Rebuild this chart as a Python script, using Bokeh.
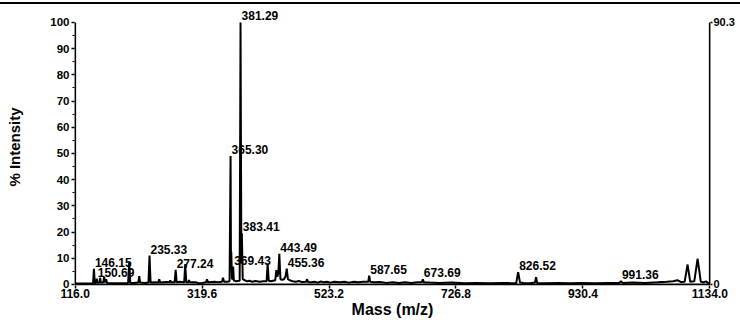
from bokeh.plotting import figure
from bokeh.models import (ColumnDataSource, LabelSet, LinearAxis, FixedTicker,
                          Range1d, Div, NumeralTickFormatter)
from bokeh.core.properties import value
from bokeh.layouts import column
from bokeh.embed import file_html
from bokeh.resources import INLINE

# ---- spectrum profile (m/z, % intensity) ----
profile_mz = [116.0, 130.0, 144.8, 146.15, 147.5, 149.5, 150.69, 152.0, 155.0, 156.1,
              157.3, 161.3, 162.6, 163.9, 165.8, 167.2, 185.0, 201.0, 202.7, 204.4,
              210.0, 217.3, 218.8, 220.3, 228.0, 233.6, 235.33, 237.0, 245.0, 249.4,
              250.9, 252.4, 262.0, 266.9, 268.5, 270.0, 275.6, 277.24, 278.9, 284.0,
              290.9, 292.6, 294.3, 297.2, 298.6, 300.0, 310.0, 314.0, 320.0, 325.9,
              327.5, 329.1, 340.0, 345.0, 351.6, 353.2, 354.8, 360.0, 363.7, 365.30,
              366.0, 366.4, 367.6, 368.4, 369.43, 370.6, 374.0, 379.9, 381.29, 382.6,
              383.41, 384.8, 388.0, 392.0, 396.0, 400.0, 405.0, 412.0, 418.0, 423.1,
              424.8, 426.5, 430.0, 436.9, 438.7, 440.0, 441.8, 443.49, 445.3, 448.0,
              451.0, 453.4, 455.36, 457.3, 460.0, 465.0, 470.0, 475.0, 480.0, 486.4,
              488.0, 489.6, 495.0, 500.0, 505.0, 510.0, 515.0, 520.0, 525.0, 532.0,
              540.0, 548.0, 555.0, 563.0, 570.0, 578.0, 586.1, 587.65, 589.2, 595.0,
              605.0, 615.0, 625.0, 635.0, 645.0, 655.0, 665.0, 672.1, 673.69, 675.3,
              685.0, 700.0, 720.0, 740.0, 760.0, 780.0, 800.0, 815.0, 823.5, 826.52,
              829.5, 835.0, 845.0, 853.5, 855.2, 856.9, 870.0, 890.0, 910.0, 930.0,
              950.0, 970.0, 988.5, 991.36, 994.0, 1010.0, 1030.0, 1050.0, 1065.0, 1075.0,
              1082.0, 1088.0, 1093.5, 1098.2, 1102.5, 1109.0, 1114.3, 1119.5, 1124.0, 1127.6,
              1131.0, 1134.0]
profile_int = [0.4, 0.4, 0.5, 6.0, 0.6, 0.6, 2.2, 0.6, 0.7, 2.5,
               0.7, 0.8, 3.0, 0.8, 2.0, 0.6, 0.5, 0.6, 8.5, 0.6,
               0.6, 0.7, 3.2, 0.7, 0.6, 0.7, 11.0, 0.7, 0.8, 0.7,
               2.0, 0.7, 0.9, 0.8, 1.5, 0.8, 0.8, 5.6, 0.8, 1.0,
               0.8, 7.8, 0.8, 0.8, 1.6, 0.8, 0.8, 0.5, 0.6, 0.8,
               2.0, 0.8, 1.0, 0.8, 1.0, 2.6, 1.0, 1.0, 1.2, 49.0,
               6.0, 12.5, 2.0, 2.2, 6.8, 1.5, 1.2, 1.4, 100.0, 8.0,
               19.5, 2.0, 1.6, 1.2, 1.4, 1.0, 1.3, 1.0, 1.2, 1.2,
               8.0, 1.4, 1.2, 1.6, 5.5, 3.0, 4.0, 11.7, 2.0, 1.8,
               2.0, 3.0, 6.0, 2.0, 1.6, 1.2, 1.0, 1.3, 0.9, 1.0,
               2.0, 0.9, 0.8, 1.0, 0.7, 1.1, 0.8, 1.0, 0.7, 1.0,
               0.8, 1.0, 0.7, 1.0, 0.8, 1.0, 1.0, 3.4, 1.0, 0.8,
               0.9, 0.6, 0.8, 0.6, 0.8, 0.6, 0.8, 0.9, 2.0, 0.8,
               0.7, 0.6, 0.7, 0.5, 0.6, 0.5, 0.6, 0.5, 0.6, 4.7,
               0.7, 0.6, 0.5, 0.7, 2.8, 0.6, 0.5, 0.6, 0.5, 0.6,
               0.5, 0.6, 0.6, 1.2, 0.6, 0.7, 0.6, 0.8, 1.0, 1.2,
               1.6, 0.9, 1.0, 7.6, 1.0, 1.2, 9.8, 1.0, 0.8, 1.2,
               0.6, 0.5]

# ---- labelled peaks ----
peak_mz = [146.15, 150.69, 235.33, 277.24, 365.30, 369.43, 381.29, 383.41,
           443.49, 455.36, 587.65, 673.69, 826.52, 991.36]
peak_int = [6.0, 2.2, 11.0, 5.6, 49.0, 6.8, 100.0, 19.5,
            11.7, 6.0, 3.4, 2.0, 4.7, 1.2]
peak_text = ["146.15", "150.69", "235.33", "277.24", "365.30", "369.43", "381.29", "383.41",
             "443.49", "455.36", "587.65", "673.69", "826.52", "991.36"]

# ---- axes ----
x_ticks = [116.0, 319.6, 523.2, 726.8, 930.4, 1134.0]
x_tick_labels = ["116.0", "319.6", "523.2", "726.8", "930.4", "1134.0"]
y_ticks = [0, 10, 20, 30, 40, 50, 60, 70, 80, 90, 100]
y_minor_ticks = [5, 15, 25, 35, 45, 55, 65, 75, 85, 95]
right_ticks = [0, 100]
right_tick_labels = ["0", "90.3"]

FONT = "Liberation Sans"

p = figure(width=740, height=316, x_range=Range1d(115.0, 1135.0), y_range=Range1d(-0.4, 105.3),
           output_backend="svg", toolbar_location=None,
           min_border_left=74, min_border_right=30, min_border_top=4, min_border_bottom=34)
p.grid.visible = False
p.outline_line_color = None
p.background_fill_color = "white"
p.border_fill_color = "white"

# axis frame lines (end at the first/last tick, as in the reference)
p.segment(x0=[x_ticks[0], x_ticks[-1], x_ticks[0]], y0=[y_ticks[0], y_ticks[0], y_ticks[0]],
          x1=[x_ticks[0], x_ticks[-1], x_ticks[-1]], y1=[y_ticks[-1], y_ticks[-1], y_ticks[0]],
          line_color="black", line_width=2)

p.line(profile_mz, profile_int, line_color="black", line_width=2)

src = ColumnDataSource(dict(x=peak_mz, y=peak_int, t=peak_text))
p.add_layout(LabelSet(x="x", y="y", text="t", source=src, x_offset=1, y_offset=2,
                      text_align="left", text_baseline="alphabetic", text_font=value(FONT),
                      text_font_size="12px", text_font_style="bold", text_color="black"))

for ax in (p.xaxis[0], p.yaxis[0]):
    ax.axis_line_color = None
    ax.major_tick_line_width = 1.5
    ax.major_tick_in = 0
    ax.major_tick_out = 3
    ax.major_label_text_font = FONT
    ax.major_label_text_font_style = "bold"
    ax.major_label_text_color = "black"
    ax.axis_label_text_font = FONT
    ax.axis_label_text_font_style = "bold"
    ax.axis_label_text_color = "black"

xa = p.xaxis[0]
xa.ticker = FixedTicker(ticks=x_ticks)
xa.formatter = NumeralTickFormatter(format="0.0")
xa.major_label_overrides = {t: l for t, l in zip(x_ticks, x_tick_labels)}
xa.major_label_text_font_size = "12px"
xa.major_label_standoff = 0
xa.axis_label = "Mass (m/z)"
xa.axis_label_text_font_size = "16px"
xa.axis_label_standoff = 0
xa.minor_tick_line_color = None

ya = p.yaxis[0]
ya.ticker = FixedTicker(ticks=y_ticks, minor_ticks=y_minor_ticks)
ya.major_label_text_font_size = "11.5px"
ya.major_label_standoff = 2
ya.minor_tick_in = 0
ya.minor_tick_out = 2
ya.minor_tick_line_width = 1
ya.axis_label = "% Intensity"
ya.axis_label_text_font_size = "15px"
ya.axis_label_standoff = 24

ra = LinearAxis(ticker=FixedTicker(ticks=right_ticks))
ra.axis_line_color = None
ra.major_tick_in = 0
ra.major_tick_out = 2
ra.major_tick_line_width = 1.5
ra.minor_tick_line_color = None
ra.major_label_overrides = {t: l for t, l in zip(right_ticks, right_tick_labels)}
ra.major_label_standoff = 1
ra.major_label_text_font = FONT
ra.major_label_text_font_style = "bold"
ra.major_label_text_font_size = "11px"
ra.major_label_text_color = "black"
ra.major_label_text_baseline = "alphabetic"
p.add_layout(ra, "right")

top_rule = Div(width=740, height=2, margin=(2, 0, 0, 0), styles={"background-color": "black"})
layout = column(top_rule, p, spacing=0)

open("out.html", "w").write(file_html(layout, INLINE))
